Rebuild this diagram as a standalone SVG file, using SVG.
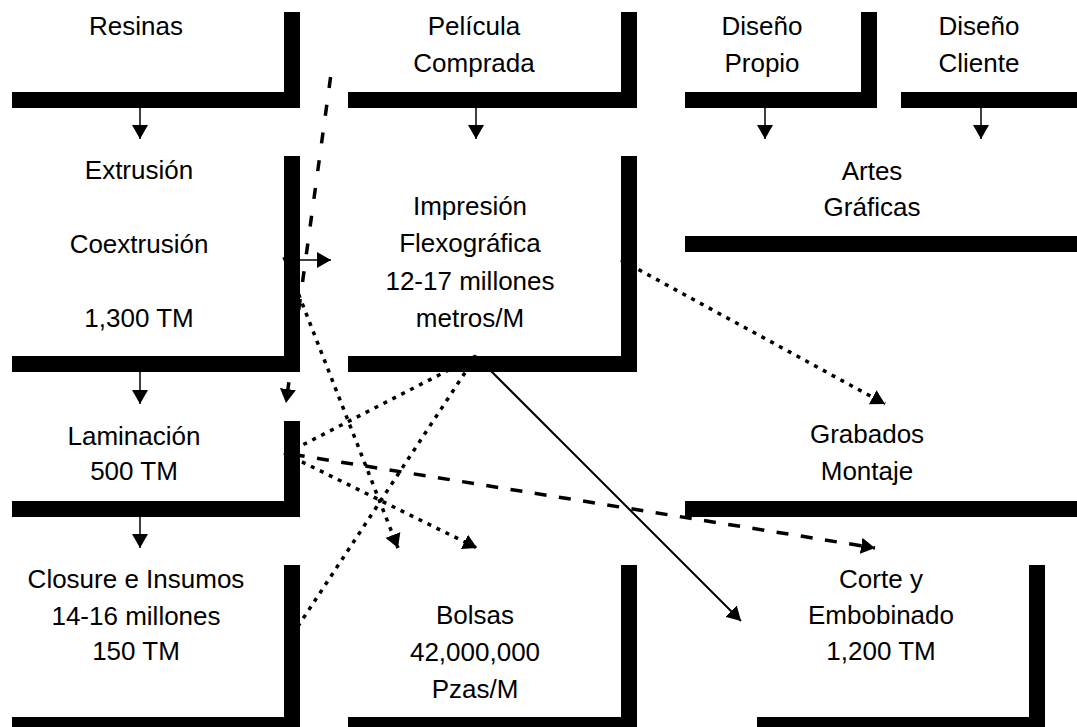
<svg xmlns="http://www.w3.org/2000/svg" width="1077" height="727" viewBox="0 0 1077 727">
<style>
text{font-family:"Liberation Sans",Arial,sans-serif;font-size:26px;fill:#000;text-anchor:middle}
.shadow{fill:#000}
.box{fill:#fff}
.e{fill:none;stroke:#000}
.solid{stroke-width:2}
.thin{stroke-width:1.5}
.dot{stroke-width:3.5;stroke-dasharray:4 6}
.dash1{stroke-width:3.5;stroke-dasharray:12 12.5;stroke-dashoffset:15.6}
.dash2{stroke-width:3.5;stroke-dasharray:11 17}
</style>
<defs>
<marker id="ah" markerUnits="userSpaceOnUse" markerWidth="14" markerHeight="16" refX="14" refY="8" orient="auto" viewBox="0 0 14 16">
<path d="M0,0 L14,8 L0,16 z" fill="#000"/>
</marker>
</defs>
<rect width="1077" height="727" fill="#fff"/>
<g id="n-resinas">
<rect class="shadow" x="12" y="12" width="288" height="96"/>
<rect class="box" x="-4" y="-4" width="288" height="96"/>
<text x="136" y="35">Resinas</text>
</g>
<g id="n-pelicula">
<rect class="shadow" x="348" y="12" width="289" height="96"/>
<rect class="box" x="332" y="-4" width="289" height="96"/>
<text x="474" y="35">Película</text>
<text x="474" y="72">Comprada</text>
</g>
<g id="n-diseno-propio">
<rect class="shadow" x="685" y="12" width="192" height="96"/>
<rect class="box" x="669" y="-4" width="192" height="96"/>
<text x="762" y="35">Diseño</text>
<text x="762" y="72">Propio</text>
</g>
<g id="n-diseno-cliente">
<rect class="shadow" x="901" y="12" width="192" height="96"/>
<rect class="box" x="885" y="-4" width="192" height="96"/>
<text x="979" y="35">Diseño</text>
<text x="979" y="72">Cliente</text>
</g>
<g id="n-extrusion">
<rect class="shadow" x="12" y="156" width="288" height="216"/>
<rect class="box" x="-4" y="140" width="288" height="216"/>
<text x="139" y="179">Extrusión</text>
<text x="139" y="253">Coextrusión</text>
<text x="139" y="327">1,300 TM</text>
</g>
<g id="n-impresion">
<rect class="shadow" x="348" y="156" width="289" height="216"/>
<rect class="box" x="332" y="140" width="289" height="216"/>
<text x="470" y="215">Impresión</text>
<text x="470" y="252">Flexográfica</text>
<text x="470" y="290">12-17 millones</text>
<text x="470" y="327">metros/M</text>
</g>
<g id="n-artes">
<rect class="shadow" x="685" y="156" width="408" height="96"/>
<rect class="box" x="669" y="140" width="408" height="96"/>
<text x="872" y="180">Artes</text>
<text x="872" y="216">Gráficas</text>
</g>
<g id="n-laminacion">
<rect class="shadow" x="12" y="421" width="288" height="96"/>
<rect class="box" x="-4" y="405" width="288" height="96"/>
<text x="134" y="445">Laminación</text>
<text x="134" y="480">500 TM</text>
</g>
<g id="n-grabados">
<rect class="shadow" x="685" y="421" width="408" height="96"/>
<rect class="box" x="669" y="405" width="408" height="96"/>
<text x="867" y="443">Grabados</text>
<text x="867" y="480">Montaje</text>
</g>
<g id="n-closure">
<rect class="shadow" x="12" y="565" width="288" height="168"/>
<rect class="box" x="-4" y="549" width="288" height="168"/>
<text x="136" y="588">Closure e Insumos</text>
<text x="136" y="625">14-16 millones</text>
<text x="136" y="660">150 TM</text>
</g>
<g id="n-bolsas">
<rect class="shadow" x="348" y="565" width="289" height="168"/>
<rect class="box" x="332" y="549" width="289" height="168"/>
<text x="475" y="624">Bolsas</text>
<text x="475" y="661">42,000,000</text>
<text x="475" y="698">Pzas/M</text>
</g>
<g id="n-corte">
<rect class="shadow" x="757" y="565" width="288" height="168"/>
<rect class="box" x="741" y="549" width="288" height="168"/>
<text x="881" y="588">Corte y</text>
<text x="881" y="624">Embobinado</text>
<text x="881" y="660">1,200 TM</text>
</g>
<g id="connectors">
<path class="e thin" d="M140,92 V139" marker-end="url(#ah)"/>
<path class="e thin" d="M476,92 V139" marker-end="url(#ah)"/>
<path class="e thin" d="M765,92 V139" marker-end="url(#ah)"/>
<path class="e thin" d="M981,92 V139" marker-end="url(#ah)"/>
<path class="e thin" d="M140,356 V404" marker-end="url(#ah)"/>
<path class="e thin" d="M140,501 V548" marker-end="url(#ah)"/>
<path class="e thin" d="M284,260 H331" marker-end="url(#ah)"/>
<path class="e dash2" d="M330.6,77 L286,403" marker-end="url(#ah)"/>
<path class="e dot" d="M284,257 L398,548" marker-end="url(#ah)"/>
<path class="e dot" d="M476,356 L285,454" marker-end="url(#ah)"/>
<path class="e dot" d="M476,356 L285,646" marker-end="url(#ah)"/>
<path class="e dot" d="M621,260 L885,404" marker-end="url(#ah)"/>
<path class="e dot" d="M284,453 L477,548" marker-end="url(#ah)"/>
<path class="e dash1" d="M284,453 L875,548" marker-end="url(#ah)"/>
<path class="e solid" d="M476,356 L741,621" marker-end="url(#ah)"/>
</g>
</svg>
